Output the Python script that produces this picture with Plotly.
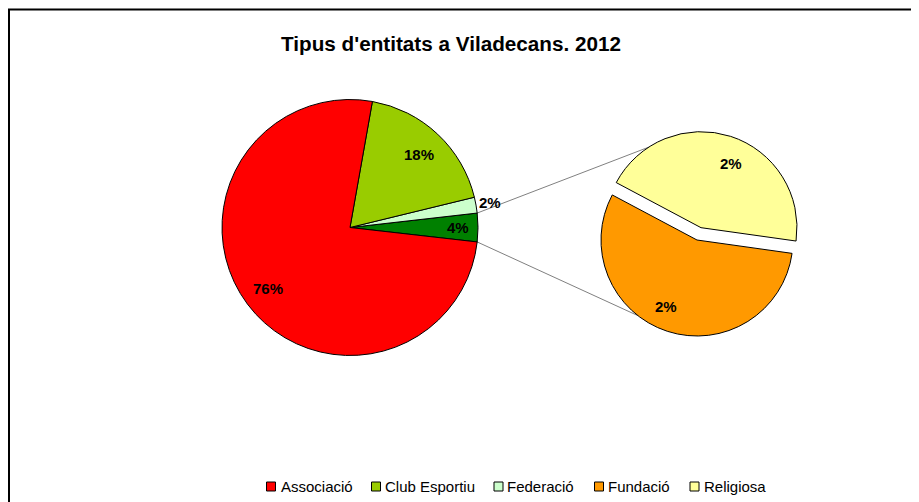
import math
import plotly.graph_objects as go

# ---------------- data ----------------
categories = ["Associació", "Club Esportiu", "Federació", "Fundació", "Religiosa"]
counts = [190, 46, 5, 5, 4]
other_label = "Fundació + Religiosa"
title_text = "Tipus d'entitats a Viladecans. 2012"

# ---------------- styles ----------------
cat_colors = ["#FF0000", "#99CC00", "#CCFFCC", "#FF9900", "#FFFF99"]
other_color = "#008000"
FONT = "Liberation Sans, Arial, sans-serif"
PAGE_W, PAGE_H = 919, 502
OFF = 8                      # page body margin
W, H = PAGE_W - OFF, PAGE_H - OFF

# geometry given in page pixels
main_c, main_r = (350.0, 227.5), 128.0
sec_c, sec_r = (697.0, 240.0), 96.0
sec_pull = 0.135
sec_rotation = 98
main_label_fr = [0.844, 1.114, 0.785, 0.80]      # Other, Federació, Club, Associació
sec_label_fr = [0.77, 0.733]                      # Fundació, Religiosa
sec_label_shift = -7
upper_link_angle, lower_link_angle = 123, 232
legend_square_cx = [271, 376, 498.5, 599, 694.5]
legend_text_x = [278.5, 383, 504.5, 606, 702]
legend_cy = 486.5
legend_sq = 9

total = sum(counts)
main_labels = [other_label, categories[2], categories[1], categories[0]]
main_values = [counts[3] + counts[4], counts[2], counts[1], counts[0]]
main_colors = [other_color, cat_colors[2], cat_colors[1], cat_colors[0]]
sec_labels = [categories[3], categories[4]]
sec_values = [counts[3], counts[4]]
sec_colors = [cat_colors[3], cat_colors[4]]
sec_pulls = [0, sec_pull]

main_rotation = 90 - (main_values[0] / sum(main_values) * 360) / 2


def pct(v):
    return f"{round(v / total * 100)}%"


def px_x(x):
    return (x - OFF) / W


def px_y(y):
    return (H - (y - OFF)) / H


def domain(c, r, maxpull=0.0):
    half = r * (1 + maxpull)
    return dict(x=[px_x(c[0] - half), px_x(c[0] + half)],
                y=[px_y(c[1] + half), px_y(c[1] - half)])


def spans(values, rotation):
    tot = sum(values)
    th = [v / tot * 360 for v in values]
    out = [(90 - rotation - th[0], 90 - rotation)]
    a = 90 - rotation
    for t in th[1:]:
        out.append((a, a + t))
        a += t
    return out


def point(c, r, ang):
    return c[0] + r * math.cos(math.radians(ang)), c[1] - r * math.sin(math.radians(ang))


fig = go.Figure()

fig.add_trace(go.Pie(
    labels=main_labels, values=main_values, sort=False, direction="counterclockwise",
    rotation=main_rotation, marker=dict(colors=main_colors, line=dict(color="black", width=1)),
    textinfo="none", showlegend=False, domain=domain(main_c, main_r),
    hovertemplate="%{label}: %{value}<extra></extra>"))

fig.add_trace(go.Pie(
    labels=sec_labels, values=sec_values, sort=False, direction="counterclockwise",
    rotation=sec_rotation, pull=sec_pulls,
    marker=dict(colors=sec_colors, line=dict(color="black", width=1)),
    textinfo="none", showlegend=False, domain=domain(sec_c, sec_r, max(sec_pulls)),
    hovertemplate="%{label}: %{value}<extra></extra>"))

label_font = dict(family=FONT, size=15, color="black", weight="bold")
annotations = []
m_sp = spans(main_values, main_rotation)
for (a0, a1), v, fr in zip(m_sp, main_values, main_label_fr):
    px, py = point(main_c, main_r * fr, (a0 + a1) / 2)
    annotations.append(dict(x=px_x(px), y=px_y(py), xref="paper", yref="paper", text=pct(v),
                            xanchor="center", yanchor="middle",
                            showarrow=False, font=label_font))
s_sp = spans(sec_values, sec_rotation)
sec_centers = [point(sec_c, sec_r * p, (a0 + a1) / 2) for (a0, a1), p in zip(s_sp, sec_pulls)]
for (a0, a1), v, fr, cc in zip(s_sp, sec_values, sec_label_fr, sec_centers):
    px, py = point(cc, sec_r * fr, (a0 + a1) / 2 + sec_label_shift)
    annotations.append(dict(x=px_x(px), y=px_y(py), xref="paper", yref="paper", text=pct(v),
                            xanchor="center", yanchor="middle",
                            showarrow=False, font=label_font))

shapes = []
p_up0 = point(main_c, main_r, m_sp[0][1])
p_lo0 = point(main_c, main_r, m_sp[0][0])
p_up1 = point(sec_centers[1], sec_r, upper_link_angle)
p_lo1 = point(sec_centers[0], sec_r, lower_link_angle)
for a, b in [(p_up0, p_up1), (p_lo0, p_lo1)]:
    shapes.append(dict(type="line", xref="paper", yref="paper",
                       x0=px_x(a[0]), y0=px_y(a[1]), x1=px_x(b[0]), y1=px_y(b[1]),
                       line=dict(color="#808080", width=1), layer="below"))
# chart-area border
shapes.append(dict(type="rect", xref="paper", yref="paper", x0=px_x(9), x1=1.05,
                   y0=-0.05, y1=px_y(9.5), line=dict(color="black", width=2),
                   fillcolor="rgba(0,0,0,0)", layer="below"))

# legend (Excel style: small bordered square right next to the text)
for name, col, sx, tx in zip(categories, cat_colors, legend_square_cx, legend_text_x):
    h = legend_sq / 2
    shapes.append(dict(type="rect", xref="paper", yref="paper",
                       x0=px_x(sx - h), x1=px_x(sx + h),
                       y0=px_y(legend_cy + h), y1=px_y(legend_cy - h),
                       line=dict(color="black", width=1), fillcolor=col, layer="above"))
    annotations.append(dict(x=px_x(tx), y=px_y(legend_cy), xref="paper", yref="paper",
                            text=name, xanchor="left", yanchor="middle", showarrow=False,
                            font=dict(family=FONT, size=15, color="black")))

fig.update_layout(
    width=W, height=H, margin=dict(l=0, r=0, t=0, b=0),
    paper_bgcolor="white", plot_bgcolor="white",
    font=dict(family=FONT, color="black"),
    showlegend=False,
    title=dict(text=title_text, x=px_x(451), xanchor="center", y=px_y(43.5), yanchor="middle",
               xref="paper", yref="paper",
               font=dict(family=FONT, size=20.7, color="black", weight="bold")),
    annotations=annotations, shapes=shapes,
)

fig.write_html("out.html")
